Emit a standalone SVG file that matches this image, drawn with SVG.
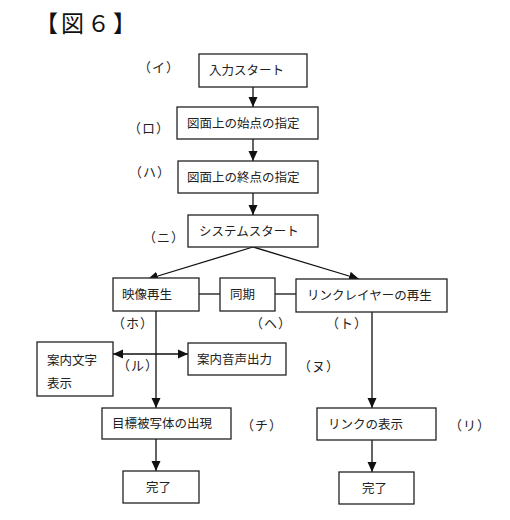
<svg xmlns="http://www.w3.org/2000/svg" width="510" height="520" viewBox="0 0 510 520">
<defs>
<marker id="ah" viewBox="0 0 10 10" refX="10" refY="5" markerWidth="10" markerHeight="10" markerUnits="userSpaceOnUse" orient="auto-start-reverse">
<path d="M0,0.5 L10,5 L0,9.5 Z" fill="#111"/>
</marker>
<style>
.b{fill:#fff;stroke:#222;stroke-width:1.3}
.t{font-family:"Noto Sans CJK JP","Noto Sans CJK SC",sans-serif;font-size:12.5px;fill:#222}
.l{font-family:"Noto Sans CJK JP","Noto Sans CJK SC",sans-serif;font-size:13px;fill:#222;letter-spacing:1px}
.c{fill:none;stroke:#111;stroke-width:1.3}
.a{marker-end:url(#ah)}
</style>
</defs>
<rect width="510" height="520" fill="#fff"/>
<text x="35" y="32" style="font-family:'Noto Sans CJK JP',sans-serif;font-size:23px;fill:#111;letter-spacing:3px">【図６】</text>

<g id="connectors">
<line class="c a" x1="253" y1="87" x2="253" y2="107"/>
<line class="c a" x1="253" y1="139" x2="253" y2="161"/>
<line class="c a" x1="253" y1="193" x2="253" y2="215"/>
<line class="c a" x1="253" y1="247" x2="148" y2="279"/>
<line class="c a" x1="253" y1="247" x2="359" y2="279"/>
<line class="c" x1="199" y1="294" x2="220" y2="294"/>
<line class="c" x1="275" y1="294" x2="296" y2="294"/>
<line class="c a" x1="156" y1="311" x2="156" y2="408"/>
<path class="c" d="M150,354 L113,354" style="marker-end:url(#ah)"/>
<path class="c" d="M150,354 L188,354" style="marker-end:url(#ah)"/>
<line class="c a" x1="156" y1="439" x2="156" y2="471"/>
<line class="c a" x1="372" y1="312" x2="372" y2="408"/>
<line class="c a" x1="372" y1="440" x2="372" y2="472"/>
</g>

<g id="n1"><rect class="b" x="199" y="54" width="108" height="33"/><text class="t" x="209" y="75">入力スタート</text></g>
<g id="n2"><rect class="b" x="177" y="107" width="141" height="32"/><text class="t" x="187" y="127.5">図面上の始点の指定</text></g>
<g id="n3"><rect class="b" x="178" y="161" width="140" height="32"/><text class="t" x="187" y="181.5">図面上の終点の指定</text></g>
<g id="n4"><rect class="b" x="188" y="215" width="130" height="32"/><text class="t" x="199" y="235.5">システムスタート</text></g>
<g id="n5"><rect class="b" x="113" y="278" width="86" height="33"/><text class="t" x="122" y="299">映像再生</text></g>
<g id="n6"><rect class="b" x="220" y="278" width="55" height="33"/><text class="t" x="230" y="299">同期</text></g>
<g id="n7"><rect class="b" x="296" y="279" width="151" height="33"/><text class="t" x="307" y="300">リンクレイヤーの再生</text></g>
<g id="n8"><rect class="b" x="37" y="342" width="76" height="54"/><text class="t" x="47" y="364.5">案内文字</text><text class="t" x="47" y="387.5">表示</text></g>
<g id="n9"><rect class="b" x="188" y="343" width="98" height="32"/><text class="t" x="197" y="363.5">案内音声出力</text></g>
<g id="n10"><rect class="b" x="102" y="408" width="129" height="31"/><text class="t" x="112" y="428">目標被写体の出現</text></g>
<g id="n11"><rect class="b" x="123" y="471" width="76" height="32"/><text class="t" x="146" y="491.5">完了</text></g>
<g id="n12"><rect class="b" x="317" y="408" width="119" height="32"/><text class="t" x="328" y="428.5">リンクの表示</text></g>
<g id="n13"><rect class="b" x="339" y="472" width="75" height="32"/><text class="t" x="362" y="492.5">完了</text></g>

<g id="labels">
<text class="l" x="138" y="72">（イ）</text>
<text class="l" x="128" y="133">（ロ）</text>
<text class="l" x="129" y="177">（ハ）</text>
<text class="l" x="143" y="242">（ニ）</text>
<text class="l" x="112" y="328">（ホ）</text>
<text class="l" x="250" y="328">（ヘ）</text>
<text class="l" x="326" y="328">（ト）</text>
<text class="l" x="117" y="370">（ル）</text>
<text class="l" x="298" y="371">（ヌ）</text>
<text class="l" x="241" y="430">（チ）</text>
<text class="l" x="449" y="430">（リ）</text>
</g>
</svg>
